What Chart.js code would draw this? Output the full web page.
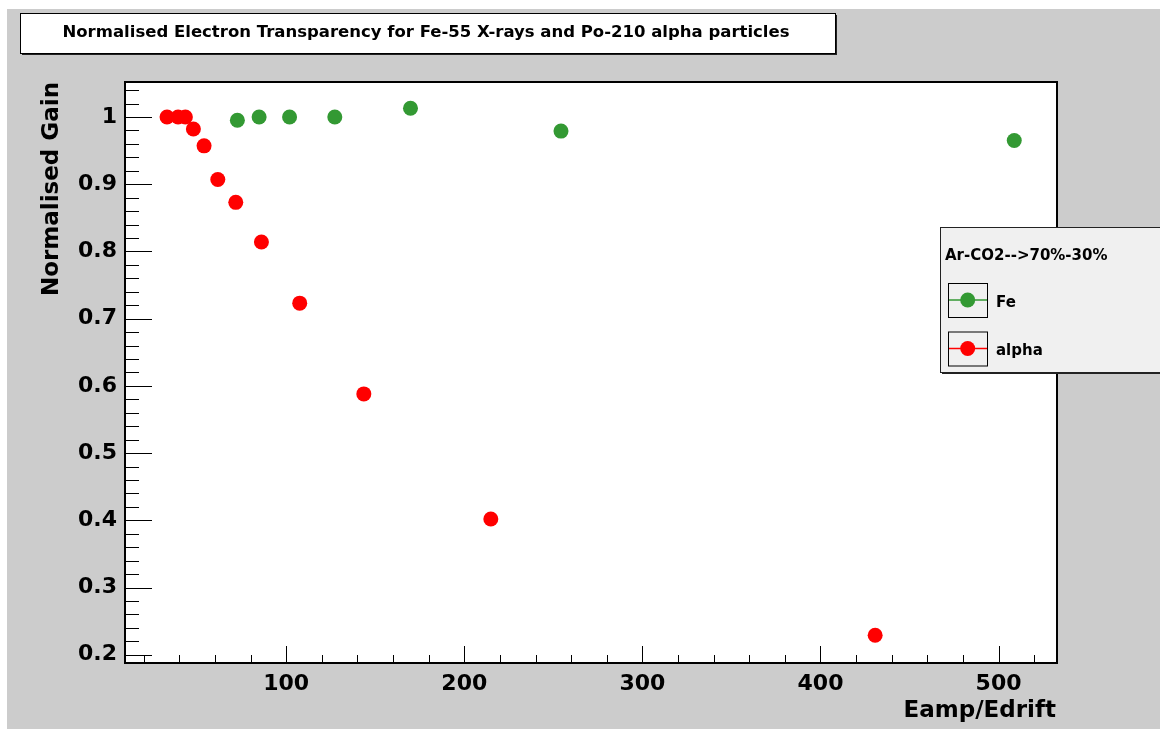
<!DOCTYPE html>
<html lang="en">

<head>
    <meta charset="UTF-8">
    <title>Normalised Electron Transparency</title>
    <style>
        body { margin: 0; background: #fff; }
        canvas { display: block; }
    </style>
</head>

<body>
    <canvas id="gainChart" width="1160" height="729"></canvas>
    <script src="https://cdn.jsdelivr.net/npm/chart.js"></script>
    <script>
        // values
        const feX = [72.6, 84.8, 101.9, 127.3, 169.8, 254.3, 508.8];
        const feGain = [0.995, 1.0, 1.0, 1.0, 1.013, 0.979, 0.965];
        const alphaX = [33.1, 39.3, 43.4, 47.9, 53.9, 61.6, 71.7, 86.1, 107.6, 143.6, 214.9, 430.7];
        const alphaGain = [1.0, 1.0, 1.0, 0.982, 0.957, 0.907, 0.873, 0.814, 0.723, 0.588, 0.402, 0.229];
        const xTicks = [100, 200, 300, 400, 500];
        const yTicks = [0.2, 0.3, 0.4, 0.5, 0.6, 0.7, 0.8, 0.9, 1];
        const yTickLabels = ['0.2', '0.3', '0.4', '0.5', '0.6', '0.7', '0.8', '0.9', '1'];

        const titleText = 'Normalised Electron Transparency for Fe-55 X-rays and Po-210 alpha particles';
        const legendHeader = 'Ar-CO2-->70%-30%';
        const FONT = '"DejaVu Sans", sans-serif';

        const toPoints = (xs, ys) => xs.map((x, i) => ({ x: x, y: ys[i] }));

        // ROOT-ish frame, inside ticks, title box, legend
        const rootStyle = {
            id: 'rootStyle',
            beforeDraw(chart) {
                const c = chart.ctx, a = chart.chartArea;
                c.save();
                c.fillStyle = '#ffffff';
                c.fillRect(0, 0, chart.width, chart.height);
                c.fillStyle = '#cccccc';
                c.fillRect(7, 9, chart.width - 7, chart.height - 9);
                c.fillStyle = '#ffffff';
                c.fillRect(a.left, a.top, a.right - a.left, a.bottom - a.top);
                c.restore();
            },
            beforeDatasetsDraw(chart) {
                const c = chart.ctx, a = chart.chartArea;
                const xs = chart.scales.x, ys = chart.scales.y;
                c.save();
                c.strokeStyle = '#000';
                c.lineWidth = 1;
                c.beginPath();
                // x ticks every 20, long every 100
                for (let v = 20; v <= xs.max; v += 20) {
                    if (v < xs.min) continue;
                    const px = Math.round(xs.getPixelForValue(v)) + 0.5;
                    const len = v % 100 === 0 ? 17 : 8;
                    c.moveTo(px, a.bottom);
                    c.lineTo(px, a.bottom - len);
                }
                // y ticks every 0.02, long every 0.1
                for (let i = 10; i * 0.02 <= ys.max; i++) {
                    const v = i * 0.02;
                    if (v < ys.min) continue;
                    const py = Math.round(ys.getPixelForValue(v)) + 0.5;
                    const len = i % 5 === 0 ? 27 : 14;
                    c.moveTo(a.left, py);
                    c.lineTo(a.left + len, py);
                }
                c.stroke();
                c.lineWidth = 2;
                c.strokeRect(a.left, a.top, a.right - a.left, a.bottom - a.top);
                c.restore();
            },
            afterDraw(chart) {
                const c = chart.ctx, a = chart.chartArea;
                c.save();

                // title box
                c.fillStyle = '#ffffff';
                c.fillRect(20, 13, 815, 40);
                c.fillStyle = '#222';
                c.fillRect(835, 15, 2, 40);
                c.fillRect(22, 53, 815, 2);
                c.strokeStyle = '#000';
                c.lineWidth = 1;
                c.strokeRect(20.5, 13.5, 815, 40);
                c.font = 'bold 15px ' + FONT;
                const w = c.measureText(titleText).width;
                const size = 15 * 727 / w;
                c.font = 'bold ' + size.toFixed(2) + 'px ' + FONT;
                c.fillStyle = '#000';
                c.textAlign = 'center';
                c.textBaseline = 'middle';
                c.fillText(titleText, 426, 33);

                // axis titles
                c.font = 'bold 23px ' + FONT;
                c.textAlign = 'right';
                c.textBaseline = 'alphabetic';
                c.fillText('Eamp/Edrift', a.right - 1, 717);
                c.translate(58, 82);
                c.rotate(-Math.PI / 2);
                c.fillText('Normalised Gain', 0, 0);
                c.setTransform(1, 0, 0, 1, 0, 0);

                // legend
                c.fillStyle = '#f0f0f0';
                c.fillRect(940, 227, 240, 146);
                c.strokeStyle = '#222';
                c.lineWidth = 1;
                c.strokeRect(940.5, 227.5, 240, 145);
                c.fillStyle = '#222';
                c.fillRect(942, 372, 240, 2);
                c.fillStyle = '#000';
                c.font = 'bold 15px ' + FONT;
                c.textAlign = 'left';
                c.fillText(legendHeader, 945, 260);
                chart.data.datasets.forEach((ds, i) => {
                    const top = 283 + i * 48.5;
                    const cy = top + 17;
                    c.strokeStyle = '#000';
                    c.lineWidth = 1;
                    c.strokeRect(948.5, top + 0.5, 39, 34);
                    c.strokeStyle = ds.backgroundColor;
                    c.lineWidth = 1.5;
                    c.beginPath();
                    c.moveTo(949, cy);
                    c.lineTo(987, cy);
                    c.stroke();
                    c.fillStyle = ds.backgroundColor;
                    c.beginPath();
                    c.arc(967.7, cy, 7.5, 0, Math.PI * 2);
                    c.fill();
                    c.fillStyle = '#000';
                    c.fillText(ds.label, 996, cy + 6.5);
                });
                c.restore();
            }
        };

        const tickFont = { family: FONT, weight: 'bold', size: 22 };

        const ctx = document.getElementById('gainChart').getContext('2d');
        const gainChart = new Chart(ctx, {
            type: 'scatter',
            data: {
                datasets: [{
                    label: 'Fe',
                    data: toPoints(feX, feGain),
                    backgroundColor: '#339933',
                    borderWidth: 0,
                    pointRadius: 7.5
                }, {
                    label: 'alpha',
                    data: toPoints(alphaX, alphaGain),
                    backgroundColor: '#ff0000',
                    borderWidth: 0,
                    pointRadius: 7.5
                }]
            },
            options: {
                responsive: false,
                animation: false,
                events: [],
                layout: { padding: { left: 0, top: 82, right: 103, bottom: 0 } },
                plugins: {
                    legend: { display: false },
                    title: { display: false },
                    tooltip: { enabled: false }
                },
                scales: {
                    x: {
                        type: 'linear',
                        min: 9.5,
                        max: 532.8,
                        grid: { display: false, drawTicks: false },
                        border: { display: false },
                        afterBuildTicks: s => { s.ticks = xTicks.map(v => ({ value: v })); },
                        afterFit: s => { s.height = 66; },
                        ticks: {
                            font: tickFont,
                            color: '#000',
                            padding: 8,
                            maxRotation: 0,
                            autoSkip: false
                        }
                    },
                    y: {
                        type: 'linear',
                        min: 0.1877,
                        max: 1.052,
                        grid: { display: false, drawTicks: false },
                        border: { display: false },
                        afterBuildTicks: s => { s.ticks = yTicks.map(v => ({ value: v })); },
                        afterFit: s => { s.width = 125; },
                        ticks: {
                            font: tickFont,
                            color: '#000',
                            padding: 8,
                            autoSkip: false,
                            callback: v => yTickLabels[yTicks.indexOf(v)]
                        }
                    }
                }
            },
            plugins: [rootStyle]
        });
    </script>
</body>

</html>
